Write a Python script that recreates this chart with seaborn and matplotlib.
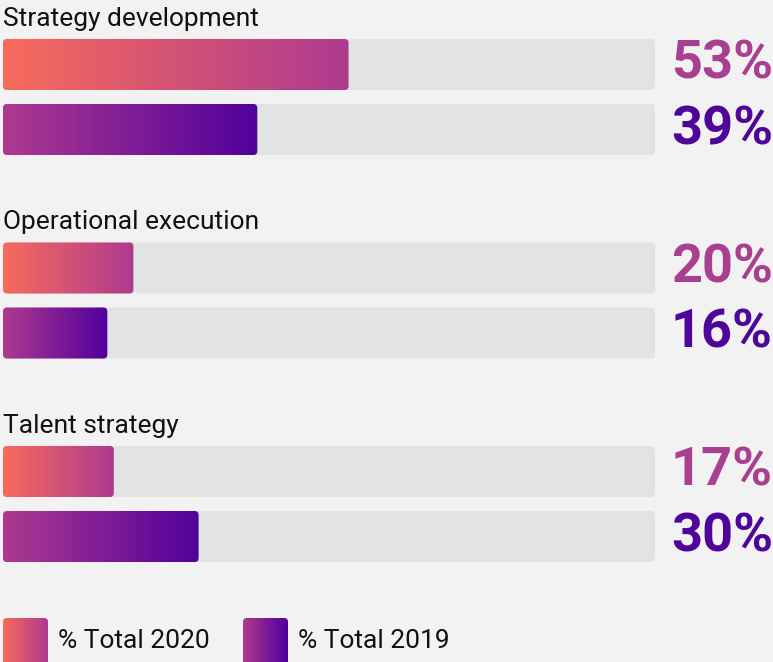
import pandas as pd
import numpy as np
import matplotlib
matplotlib.use("Agg")
import matplotlib.pyplot as plt
from matplotlib.colors import LinearSegmentedColormap
from matplotlib.patches import FancyBboxPatch
import seaborn as sns

# data
categories = ["Strategy development", "Operational execution", "Talent strategy"]
years = ["% Total 2020", "% Total 2019"]
total_2020 = [53, 20, 17]
total_2019 = [39, 16, 30]

df = pd.DataFrame({
    "category": categories * 2,
    "year": [years[0]] * 3 + [years[1]] * 3,
    "value": total_2020 + total_2019,
})
track = df.assign(value=100)

# colours
BG = "#F2F2F2"
TRACK = "#E2E3E3"
CORAL = "#F76B5C"
MAGENTA = "#AE3A8F"
VIOLET = "#50009C"
cmaps = {
    years[0]: LinearSegmentedColormap.from_list("c20", [CORAL, MAGENTA]),
    years[1]: LinearSegmentedColormap.from_list("c19", [MAGENTA, VIOLET]),
}
label_colors = {years[0]: "#A93F90", years[1]: "#50059A"}

sns.set_style("white")
plt.rcParams["font.family"] = ["Roboto", "DejaVu Sans"]

W, H = 773, 662
fig = plt.figure(figsize=(W / 100, H / 100), dpi=100, facecolor=BG)
ax = fig.add_axes([0, 0, 1, 1], facecolor=BG)

# pixel mapping: x 0..100 -> px 3..655, groups centred at px 97, 301, 504
px_per_x = 652 / 100
px_per_y = 203.5
xlim = (-3 / px_per_x, (W - 3) / px_per_x)
ylim = ((H - 97) / px_per_y, -97 / px_per_y)

# gray tracks
sns.barplot(data=track, y="category", x="value", hue="year", orient="h",
            order=categories, hue_order=years, width=0.639, gap=0.215,
            palette=[TRACK, TRACK], legend=False, ax=ax, errorbar=None)
n_track = len(ax.patches)
# value bars
sns.barplot(data=df, y="category", x="value", hue="year", orient="h",
            order=categories, hue_order=years, width=0.639, gap=0.215,
            palette=[CORAL, VIOLET], legend=False, ax=ax, errorbar=None)

aspect = (1 / px_per_y) / (1 / px_per_x)
rad = 4 / px_per_x

def rounded(x0, y0, w, h, **kw):
    return FancyBboxPatch((x0, y0), w, h, boxstyle=f"round,pad=0,rounding_size={rad}",
                          mutation_aspect=aspect, **kw)

grad = np.linspace(0, 1, 256).reshape(1, -1)
patches = list(ax.patches)
for i, p in enumerate(patches):
    x0, y0, w, h = p.get_x(), p.get_y(), p.get_width(), p.get_height()
    p.set_visible(False)
    if i < n_track:
        ax.add_patch(rounded(x0, y0, w, h, facecolor=TRACK, edgecolor="none", zorder=1))
        continue
    yr = years[0] if (i - n_track) < len(categories) else years[1]
    clip = rounded(x0, y0, w, h, facecolor="none", edgecolor="none", zorder=2)
    ax.add_patch(clip)
    im = ax.imshow(grad, cmap=cmaps[yr], aspect="auto", extent=(x0, x0 + w, y0 + h, y0),
                   zorder=2, interpolation="bilinear")
    im.set_clip_path(clip)
    ax.text((W - 3) / px_per_x, y0 + h / 2, f"{int(round(w))}%", ha="right", va="center",
            fontsize=39, fontweight="bold", color=label_colors[yr], zorder=3)

# group titles
for k, cat in enumerate(categories):
    ax.text(0, k - 78 / px_per_y, cat, ha="left", va="center", fontsize=19, color="#111111")

# legend
leg_y0 = (618 - 97) / px_per_y
leg_h = 50 / px_per_y
for lx, yr in [(0, years[0]), (240 / px_per_x, years[1])]:
    lw = 45 / px_per_x
    clip = rounded(lx, leg_y0, lw, leg_h, facecolor="none", edgecolor="none")
    ax.add_patch(clip)
    im = ax.imshow(grad, cmap=cmaps[yr], aspect="auto",
                   extent=(lx, lx + lw, leg_y0 + leg_h, leg_y0), interpolation="bilinear")
    im.set_clip_path(clip)
    ax.text(lx + 55 / px_per_x, (641 - 97) / px_per_y, yr, ha="left", va="center",
            fontsize=19, color="#111111")

ax.set_xlim(*xlim)
ax.set_ylim(*ylim)
ax.set_axis_off()

fig.savefig("out.png", dpi=100, facecolor=BG)
